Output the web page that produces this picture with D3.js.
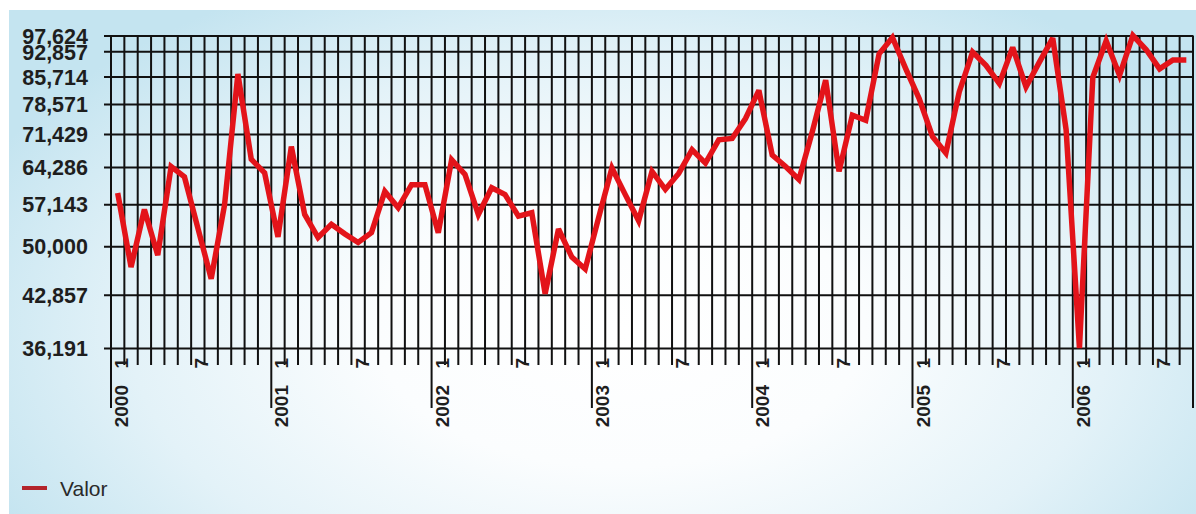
<!DOCTYPE html>
<html>
<head>
<meta charset="utf-8">
<script src="https://cdn.jsdelivr.net/npm/d3@7/dist/d3.min.js"></script>
<style>
  html, body { margin: 0; padding: 0; background: #ffffff; }
  svg { display: block; }
</style>
</head>
<body>
<svg id="chart" width="1196" height="514"></svg>
<script>
// Monthly series, January 2000 to September 2006
const years = [2000, 2001, 2002, 2003, 2004, 2005, 2006];
const monthNumbers = [1, 2, 3, 4, 5, 6, 7, 8, 9, 10, 11, 12];
const labelledMonths = [1, 7];

const values = [
  // 2000
  59200, 46800, 56200, 48600, 64400, 62300, 53000, 45100, 57000, 86400, 65900, 63100,
  // 2001
  51500, 68600, 55300, 51400, 53600, 52000, 50600, 52200, 59500, 56500, 60800, 60800,
  // 2002
  52200, 65800, 62800, 55300, 60200, 58900, 55000, 55600, 43000, 52800, 48300, 46500,
  // 2003
  54700, 64100, 58900, 54200, 63400, 59900, 63000, 67900, 65100, 70100, 70400, 75000,
  // 2004
  82000, 66800, 64400, 61800, 71900, 84700, 63400, 75800, 74600, 92100, 97000, 87800,
  // 2005
  79900, 70800, 67200, 81600, 92600, 88800, 83800, 94000, 82900, 89700, 96800, 72400,
  // 2006
  36191, 85500, 96000, 86000, 97624, 93300, 87800, 90300, 90300
];

const yTickValues = [36191, 42857, 50000, 57143, 64286, 71429, 78571, 85714, 92857, 97624];
const seriesName = "Valor";

// Categories: one per month, in order
const periods = years
  .flatMap(yr => monthNumbers.map(m => ({ year: yr, month: m, key: yr + "-" + m })))
  .slice(0, values.length);
const data = periods.map((p, i) => ({ ...p, value: values[i] }));

(function draw() {
  const svg = d3.select("#chart");
  const W = 1196, H = 514;

  // Background panel with soft blue radial shading
  const defs = svg.append("defs");
  const grad = defs.append("radialGradient")
    .attr("id", "bg")
    .attr("gradientUnits", "userSpaceOnUse")
    .attr("cx", 620).attr("cy", 330).attr("r", 700)
    .attr("gradientTransform", "translate(620,330) scale(1,0.56) translate(-620,-330)");
  grad.append("stop").attr("offset", 0).attr("stop-color", "#ffffff");
  grad.append("stop").attr("offset", 0.35).attr("stop-color", "#fbfdfe");
  grad.append("stop").attr("offset", 0.7).attr("stop-color", "#e3f2f8");
  grad.append("stop").attr("offset", 1).attr("stop-color", "#c4e4f0");

  svg.append("rect").attr("width", W).attr("height", H).attr("fill", "#ffffff");
  svg.append("rect").attr("x", 9).attr("y", 10).attr("width", W - 9).attr("height", H - 10)
    .attr("fill", "url(#bg)");

  // Plot geometry
  const plotLeft = 111, plotRight = 1193, plotTop = 35.5, plotBottom = 348;
  const gridLeft = 104;

  const x = d3.scaleBand()
    .domain(periods.map(p => p.key))
    .range([plotLeft, plotRight])
    .paddingInner(0).paddingOuter(0);
  const bw = x.bandwidth();

  const y = d3.scaleLog()
    .domain([d3.min(yTickValues), d3.max(yTickValues)])
    .range([plotBottom, plotTop]);

  const gridColor = "#111111";
  const font = "'Liberation Sans', Arial, sans-serif";

  // Horizontal grid lines + value labels
  const yAxis = d3.axisLeft(y)
    .tickValues(yTickValues)
    .tickFormat(d3.format(","))
    .tickSizeInner(-(plotRight - gridLeft))
    .tickSizeOuter(0)
    .tickPadding(16);

  const gy = svg.append("g")
    .attr("transform", `translate(${gridLeft},0)`)
    .call(yAxis);
  gy.select(".domain").remove();
  gy.selectAll(".tick line")
    .attr("stroke", gridColor)
    .attr("stroke-width", 2);
  gy.selectAll(".tick text")
    .attr("font-family", font)
    .attr("font-weight", "bold")
    .attr("font-size", "21.5px")
    .attr("fill", "#1e1e1e")
    .attr("dy", "0.36em");

  // Vertical grid lines at month boundaries; year boundaries run further down
  const boundaries = periods.map(p => ({ x: x(p.key), yearStart: p.month === 1 }));
  boundaries.push({ x: plotRight, yearStart: true });

  svg.append("g").selectAll("line")
    .data(boundaries)
    .join("line")
    .attr("x1", d => d.x).attr("x2", d => d.x)
    .attr("y1", plotTop)
    .attr("y2", d => d.yearStart ? 408 : 365)
    .attr("stroke", gridColor)
    .attr("stroke-width", 2);

  // Month labels (1 and 7), rotated
  svg.append("g").selectAll("text")
    .data(periods.filter(p => labelledMonths.includes(p.month)))
    .join("text")
    .attr("transform", p => `translate(${x(p.key) + bw / 2 + 10.5},358) rotate(-90)`)
    .attr("text-anchor", "end")
    .attr("font-family", font)
    .attr("font-weight", "bold")
    .attr("font-size", "19px")
    .attr("fill", "#1e1e1e")
    .text(p => p.month);

  // Year labels, rotated
  svg.append("g").selectAll("text")
    .data(periods.filter(p => p.month === 1))
    .join("text")
    .attr("transform", p => `translate(${x(p.key) + bw / 2 + 10.5},385) rotate(-90)`)
    .attr("text-anchor", "end")
    .attr("font-family", font)
    .attr("font-weight", "bold")
    .attr("font-size", "19px")
    .attr("fill", "#1e1e1e")
    .text(p => p.year);

  // Series line
  const line = d3.line()
    .x(d => x(d.key) + bw / 2)
    .y(d => y(d.value));

  svg.append("path")
    .datum(data)
    .attr("d", line)
    .attr("fill", "none")
    .attr("stroke", "#e3141a")
    .attr("stroke-width", 5.5)
    .attr("stroke-linejoin", "miter")
    .attr("stroke-miterlimit", 3);

  // Legend
  const legend = svg.append("g").attr("transform", "translate(22,488)");
  legend.append("line")
    .attr("x1", 0).attr("x2", 25)
    .attr("y1", 0).attr("y2", 0)
    .attr("stroke", "#b3242b")
    .attr("stroke-width", 4);
  legend.append("text")
    .attr("x", 38).attr("y", 7.5)
    .attr("font-family", font)
    .attr("font-size", "21px")
    .attr("fill", "#2a2a2a")
    .text(seriesName);
})();
</script>
</body>
</html>
